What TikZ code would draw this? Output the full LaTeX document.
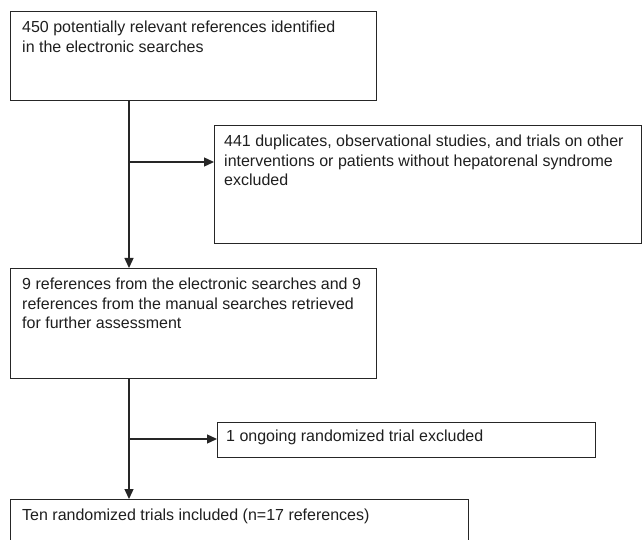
\documentclass[tikz,border=0pt]{standalone}
\usepackage{fontspec}
\setmainfont{Liberation Sans}
\usetikzlibrary{arrows.meta,calc}
\begin{document}
\begin{tikzpicture}[x=1pt,y=1pt,
  box/.style={draw=black!85, line width=1.4pt, rectangle, inner sep=0pt, anchor=north west},
  txt/.style={anchor=north west, inner sep=0pt, align=left, text=black!88, font=\fontsize{16}{19.5}\selectfont},
  arr/.style={draw=black!85, line width=1.3pt, -{Triangle[length=10pt,width=9pt]}}]
\clip (0,0) rectangle (643,-540);
\fill[white] (0,0) rectangle (643,-540);
% boxes
\node[box, minimum width=366pt, minimum height=89pt] (b1) at (10,-11) {};
\node[box, minimum width=427pt, minimum height=118pt] (b2) at (214,-125) {};
\node[box, minimum width=366pt, minimum height=110pt] (b3) at (10,-268) {};
\node[box, minimum width=378pt, minimum height=35pt] (b4) at (217,-422) {};
\node[box, minimum width=458pt, minimum height=60pt] (b5) at (10,-499) {};
% texts
\node[txt] (t1) at ($(b1.north west)+(12,-10)$) {450 potentially relevant references identified\\in the electronic searches};
\node[txt] (t2) at ($(b2.north west)+(10,-10)$) {441 duplicates, observational studies, and trials on other\\interventions or patients without hepatorenal syndrome\\excluded};
\node[txt] (t3) at ($(b3.north west)+(12,-10)$) {9 references from the electronic searches and 9\\references from the manual searches retrieved\\for further assessment};
\node[txt] (t4) at ($(b4.north west)+(9,-8)$) {1 ongoing randomized trial excluded};
\node[txt] (t5) at ($(b5.north west)+(12,-10)$) {Ten randomized trials included (n=17 references)};
% connectors
\coordinate (sp) at (129,0);
\draw[arr] (b1.south -| sp) -- (b3.north -| sp);
\coordinate (a2) at ($(b2.north west)+(0,-37)$);
\draw[arr] (sp |- a2) -- (a2);
\draw[arr] (b3.south -| sp) -- (b5.north -| sp);
\coordinate (a4) at ($(b4.north west)+(0,-17)$);
\draw[arr] (sp |- a4) -- (a4);
\end{tikzpicture}
\end{document}
